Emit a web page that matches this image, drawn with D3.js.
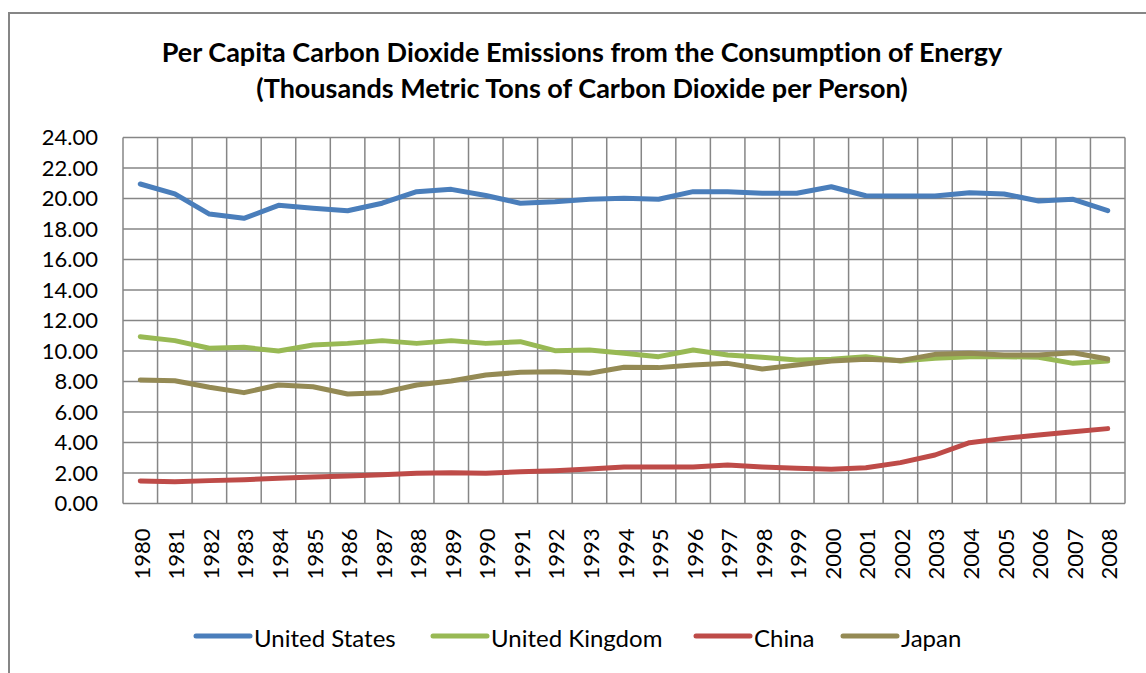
<!DOCTYPE html>
<html>
<head>
<meta charset="utf-8">
<script src="https://cdn.jsdelivr.net/npm/d3@7"></script>
<style>
  html, body { margin: 0; padding: 0; background: #fff; }
  svg { display: block; font-family: Lato, "Open Sans", sans-serif; font-variant-ligatures: none; }
</style>
</head>
<body>
<svg id="chart" width="1146" height="673"></svg>
<script>
// Per capita CO2 emissions from energy consumption, 1980–2008
const years = ["1980","1981","1982","1983","1984","1985","1986","1987","1988","1989",
  "1990","1991","1992","1993","1994","1995","1996","1997","1998","1999",
  "2000","2001","2002","2003","2004","2005","2006","2007","2008"];

const unitedStates = [20.95, 20.30, 18.98, 18.70, 19.55, 19.36, 19.20, 19.69, 20.45, 20.60,
  20.20, 19.69, 19.79, 19.95, 20.01, 19.95, 20.45, 20.45, 20.34, 20.34,
  20.77, 20.18, 20.16, 20.16, 20.38, 20.30, 19.84, 19.95, 19.20];

const unitedKingdom = [10.94, 10.68, 10.18, 10.24, 10.00, 10.39, 10.50, 10.68, 10.50, 10.68,
  10.50, 10.61, 10.02, 10.07, 9.85, 9.63, 10.07, 9.74, 9.59, 9.41,
  9.46, 9.63, 9.34, 9.52, 9.63, 9.63, 9.59, 9.19, 9.34];

const china = [1.48, 1.43, 1.50, 1.56, 1.65, 1.74, 1.80, 1.89, 1.98, 2.02,
  1.98, 2.09, 2.15, 2.26, 2.39, 2.39, 2.39, 2.52, 2.39, 2.31,
  2.24, 2.35, 2.68, 3.18, 3.99, 4.27, 4.49, 4.71, 4.91];

const japan = [8.10, 8.05, 7.62, 7.27, 7.77, 7.66, 7.18, 7.27, 7.77, 8.03,
  8.43, 8.60, 8.64, 8.54, 8.93, 8.91, 9.08, 9.19, 8.82, 9.08,
  9.34, 9.46, 9.37, 9.78, 9.85, 9.74, 9.74, 9.89, 9.48];

const seriesNames = ["United States", "United Kingdom", "China", "Japan"];
const seriesColors = ["#4A7EBB", "#98B954", "#BE4B48", "#948A54"];
const seriesValues = [unitedStates, unitedKingdom, china, japan];

const yTicks = [0, 2, 4, 6, 8, 10, 12, 14, 16, 18, 20, 22, 24];

const titleLines = [
  "Per Capita Carbon Dioxide Emissions from the Consumption of Energy",
  "(Thousands Metric Tons of Carbon Dioxide per Person)"
];

const svg = d3.select("#chart");
const gridColor = "#868686";

// Chart frame
svg.append("rect")
  .attr("x", 9).attr("y", 13)
  .attr("width", 1200).attr("height", 700)
  .attr("fill", "none")
  .attr("stroke", gridColor)
  .attr("stroke-width", 2);

// Title
svg.append("g").selectAll("text")
  .data(titleLines)
  .join("text")
  .attr("x", 582)
  .attr("y", (d, i) => 62 + i * 36)
  .attr("text-anchor", "middle")
  .attr("font-weight", "bold")
  .attr("font-size", 27)
  .attr("fill", "#000")
  .text(d => d);

// Plot area
const plot = { left: 123, right: 1125, top: 137.5, bottom: 503.5 };

const x = d3.scaleBand()
  .domain(years)
  .range([plot.left, plot.right])
  .padding(0);

const y = d3.scaleLinear()
  .domain([0, 24])
  .range([plot.bottom, plot.top]);

// Horizontal gridlines
svg.append("g").selectAll("line")
  .data(yTicks)
  .join("line")
  .attr("x1", plot.left).attr("x2", plot.right)
  .attr("y1", d => y(d)).attr("y2", d => y(d))
  .attr("stroke", gridColor)
  .attr("stroke-width", 1.5);

// Vertical gridlines at category boundaries
const boundaries = years.map(d => x(d)).concat([plot.right]);
svg.append("g").selectAll("line")
  .data(boundaries)
  .join("line")
  .attr("x1", d => d).attr("x2", d => d)
  .attr("y1", plot.top).attr("y2", plot.bottom)
  .attr("stroke", gridColor)
  .attr("stroke-width", 1.5);

// Y axis labels
const yAxis = d3.axisLeft(y)
  .tickValues(yTicks)
  .tickFormat(d3.format(".2f"))
  .tickSize(0)
  .tickPadding(25);
const yG = svg.append("g")
  .attr("transform", `translate(${plot.left},0)`)
  .call(yAxis);
yG.select(".domain").remove();
yG.selectAll("text")
  .attr("font-family", "Lato, 'Open Sans', sans-serif")
  .attr("font-size", 22)
  .attr("fill", "#000");

// X axis labels (rotated)
const xAxis = d3.axisBottom(x).tickSize(0).tickPadding(0);
const xG = svg.append("g")
  .attr("transform", `translate(0,${plot.bottom})`)
  .call(xAxis);
xG.select(".domain").remove();
xG.selectAll("text")
  .attr("font-family", "Lato, 'Open Sans', sans-serif")
  .attr("font-size", 22)
  .attr("fill", "#000")
  .attr("text-anchor", "end")
  .attr("dy", null)
  .attr("y", 0)
  .attr("dominant-baseline", "central")
  .attr("transform", "translate(1,25) rotate(-90)");

// Series lines
const line = d3.line()
  .x((d, i) => x(years[i]) + x.bandwidth() / 2)
  .y(d => y(d));

svg.append("g").selectAll("path")
  .data(seriesValues)
  .join("path")
  .attr("d", d => line(d))
  .attr("fill", "none")
  .attr("stroke", (d, i) => seriesColors[i])
  .attr("stroke-width", 5)
  .attr("stroke-linejoin", "round")
  .attr("stroke-linecap", "round");

// Legend
const legendX = [196, 433, 696, 843];
const legend = svg.append("g").selectAll("g")
  .data(seriesNames)
  .join("g")
  .attr("transform", (d, i) => `translate(${legendX[i]},636)`);
legend.append("line")
  .attr("x1", 0).attr("x2", 54)
  .attr("y1", 0).attr("y2", 0)
  .attr("stroke", (d, i) => seriesColors[i])
  .attr("stroke-width", 5)
  .attr("stroke-linecap", "round");
legend.append("text")
  .attr("x", 58)
  .attr("y", 1)
  .attr("dominant-baseline", "central")
  .attr("font-size", 24)
  .attr("fill", "#000")
  .text(d => d);
</script>
</body>
</html>
